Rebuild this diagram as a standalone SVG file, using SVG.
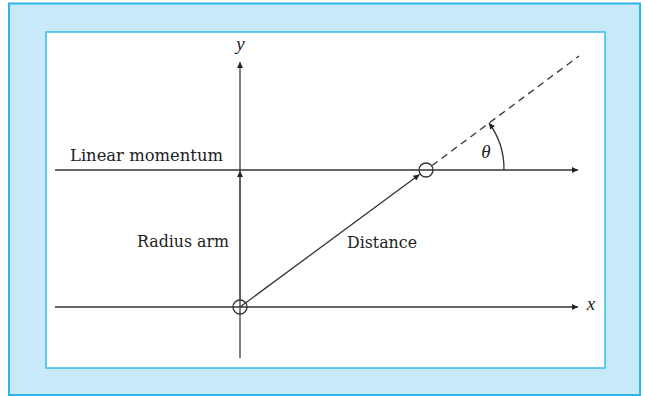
<svg xmlns="http://www.w3.org/2000/svg" width="645" height="396" viewBox="0 0 645 396">
  <style>
    .lbl { font-family: "DejaVu Serif", "Liberation Serif", serif; font-size: 17px; fill: #222; }
    .var { font-family: "Liberation Serif", "Times New Roman", serif; font-style: italic; font-size: 19px; fill: #222; }
    .ln { stroke: #333; stroke-width: 1.3; fill: none; }
    .ax { stroke: #555; stroke-width: 1.5; fill: none; }
  </style>
  <defs>
    <marker id="arr" viewBox="0 0 10 10" refX="10" refY="5" markerWidth="9" markerHeight="6" markerUnits="userSpaceOnUse" orient="auto">
      <path d="M0,0 L10,5 L0,10 z" fill="#222"/>
    </marker>
  </defs>
  <g id="frame">
    <rect x="9" y="3.5" width="631" height="391.5" fill="#c7e9f8" stroke="#2db4e8" stroke-width="2"/>
    <rect x="46" y="32" width="559" height="336" fill="#ffffff" stroke="#3dbbe9" stroke-width="1.5"/>
  </g>
  <g id="connectors">
    <line id="y-axis" class="ax" x1="240" y1="358" x2="240" y2="62" marker-end="url(#arr)"/>
    <line id="radius-arm" class="ax" x1="240" y1="300" x2="240" y2="171" marker-end="url(#arr)"/>
    <line id="x-axis" class="ln" x1="55" y1="307" x2="578" y2="307" marker-end="url(#arr)"/>
    <line id="momentum" class="ln" x1="55" y1="170" x2="578" y2="170" marker-end="url(#arr)"/>
    <line id="distance" class="ln" x1="240" y1="307" x2="419.5" y2="174.5" marker-end="url(#arr)"/>
    <line id="extension" class="ln" x1="432" y1="165.6" x2="579" y2="56" stroke-dasharray="7,5"/>
    <path id="theta-arc" class="ln" d="M504,170 A78,78 0 0 0 489,123" marker-end="url(#arr)"/>
  </g>
  <g id="origin">
    <circle cx="240" cy="307" r="7" fill="none" stroke="#333" stroke-width="1.3"/>
  </g>
  <g id="particle">
    <circle cx="426" cy="170" r="7" fill="none" stroke="#333" stroke-width="1.3"/>
  </g>
  <g id="labels">
    <text class="var" x="240.5" y="50" text-anchor="middle">y</text>
    <text class="var" x="591" y="310" text-anchor="middle">x</text>
    <text class="var" x="486" y="158" text-anchor="middle">θ</text>
    <text class="lbl" x="70" y="161" textLength="153" lengthAdjust="spacingAndGlyphs">Linear momentum</text>
    <text class="lbl" x="137" y="247" textLength="92" lengthAdjust="spacingAndGlyphs">Radius arm</text>
    <text class="lbl" x="347" y="248" textLength="70" lengthAdjust="spacingAndGlyphs">Distance</text>
  </g>
</svg>
